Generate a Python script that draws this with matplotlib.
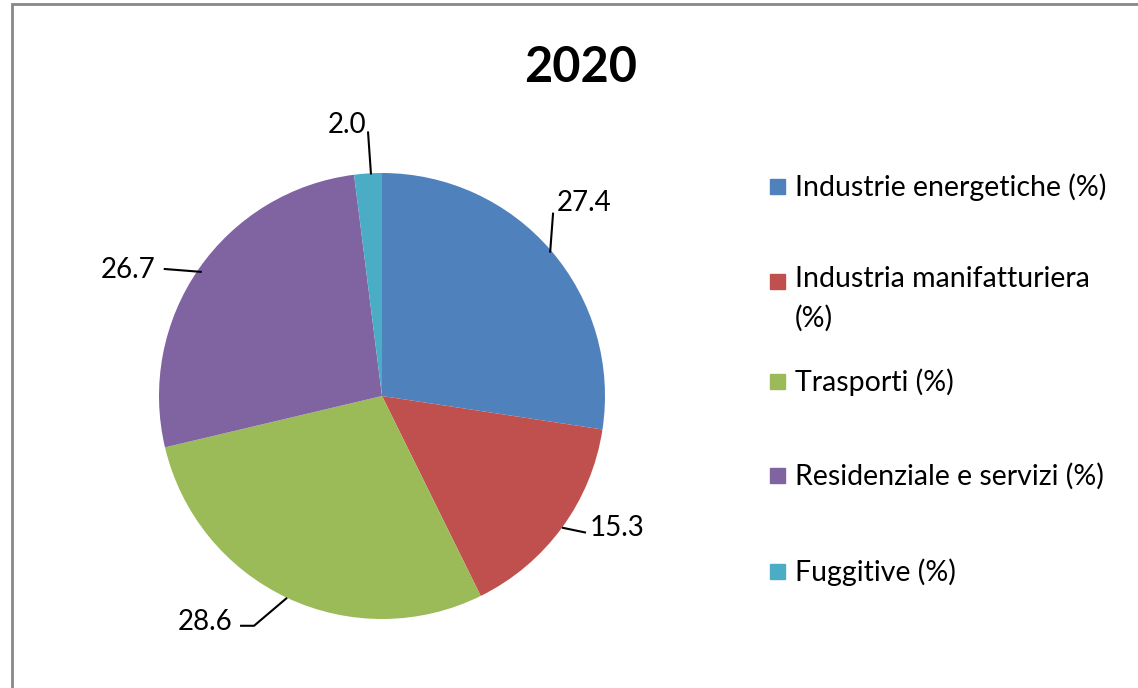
import math

import matplotlib
matplotlib.use('Agg')
import matplotlib.pyplot as plt
from matplotlib.patches import Rectangle

# ── Data ──────────────────────────────────────────────────────────────────────
categories = [
    'Industrie energetiche (%)',
    'Industria manifatturiera\n(%)',
    'Trasporti (%)',
    'Residenziale e servizi (%)',
    'Fuggitive (%)',
]
values = [27.4, 15.3, 28.6, 26.7, 2.0]
title = '2020'

colors = ['#4F81BD', '#C0504D', '#9BBB59', '#8064A2', '#4BACC6']

W, H = 1138, 688
CX, CY, R = 382, 396, 223       # pie centre / radius in pixels (from top)
LIM = 1.7

plt.rcParams['font.family'] = ['Lato', 'DejaVu Sans']

fig = plt.figure(figsize=(W / 100, H / 100), dpi=100)
side = 2 * LIM * R
ax = fig.add_axes([(CX - side / 2) / W, (H - CY - side / 2) / H, side / W, side / H])

wedges, _ = ax.pie(values, colors=colors, startangle=90, counterclock=False,
                   radius=1.0, wedgeprops=dict(linewidth=0))
ax.set_xlim(-LIM, LIM)
ax.set_ylim(-LIM, LIM)
ax.set_aspect('equal')
ax.axis('off')


def px(dx, dy):
    # pixel offset -> data units
    return dx / R, -dy / R


# leader line path (pixel offsets from the wedge's mid-edge point) and label centre offset
leaders = [
    ([(-1, 2), (2, -38)], (33, -48)),
    ([(0, 0), (24, 5)], (55, 0)),
    ([(0, 0), (-33, 28), (-47, 28)], (-82, 24)),
    ([(3, 3), (-35, 0)], (-71, 1)),
    ([(3, 1), (0, -42)], (-21, -48)),
]

for w, v, (path, toff) in zip(wedges, values, leaders):
    ang = math.radians((w.theta1 + w.theta2) / 2)
    ex, ey = math.cos(ang), math.sin(ang)
    xs, ys = [], []
    for dx, dy in path:
        ox, oy = px(dx, dy)
        xs.append(ex + ox)
        ys.append(ey + oy)
    ax.plot(xs, ys, color='black', lw=1.5, solid_capstyle='butt', clip_on=False)
    tx, ty = px(*toff)
    ax.text(ex + tx, ey + ty, f'{v:.1f}', fontsize=20, ha='center', va='center')

fig.text(581 / W, 1 - 67 / H, title, fontsize=35, fontweight='bold',
         ha='center', va='center')

# legend drawn by hand to follow the reference layout
leg_y = [187, 282, 382, 476, 572]
for c, lab, y in zip(colors, categories, leg_y):
    fig.patches.append(Rectangle((770 / W, 1 - (y + 7) / H), 15 / W, 15 / H,
                                 transform=fig.transFigure, color=c))
    if '\n' in lab:
        fig.text(795 / W, 1 - (y - 16) / H, lab, fontsize=20.5, ha='left', va='top',
                 linespacing=1.6)
    else:
        fig.text(795 / W, 1 - y / H, lab, fontsize=20.5, ha='left', va='center')

# chart border (only left and top visible)
fig.patches.append(Rectangle((11.5 / W, -0.1), 2, 1 - 4.5 / H + 0.1,
                             transform=fig.transFigure, fill=False,
                             edgecolor='#888888', lw=2))

fig.savefig('out.png', dpi=100)
